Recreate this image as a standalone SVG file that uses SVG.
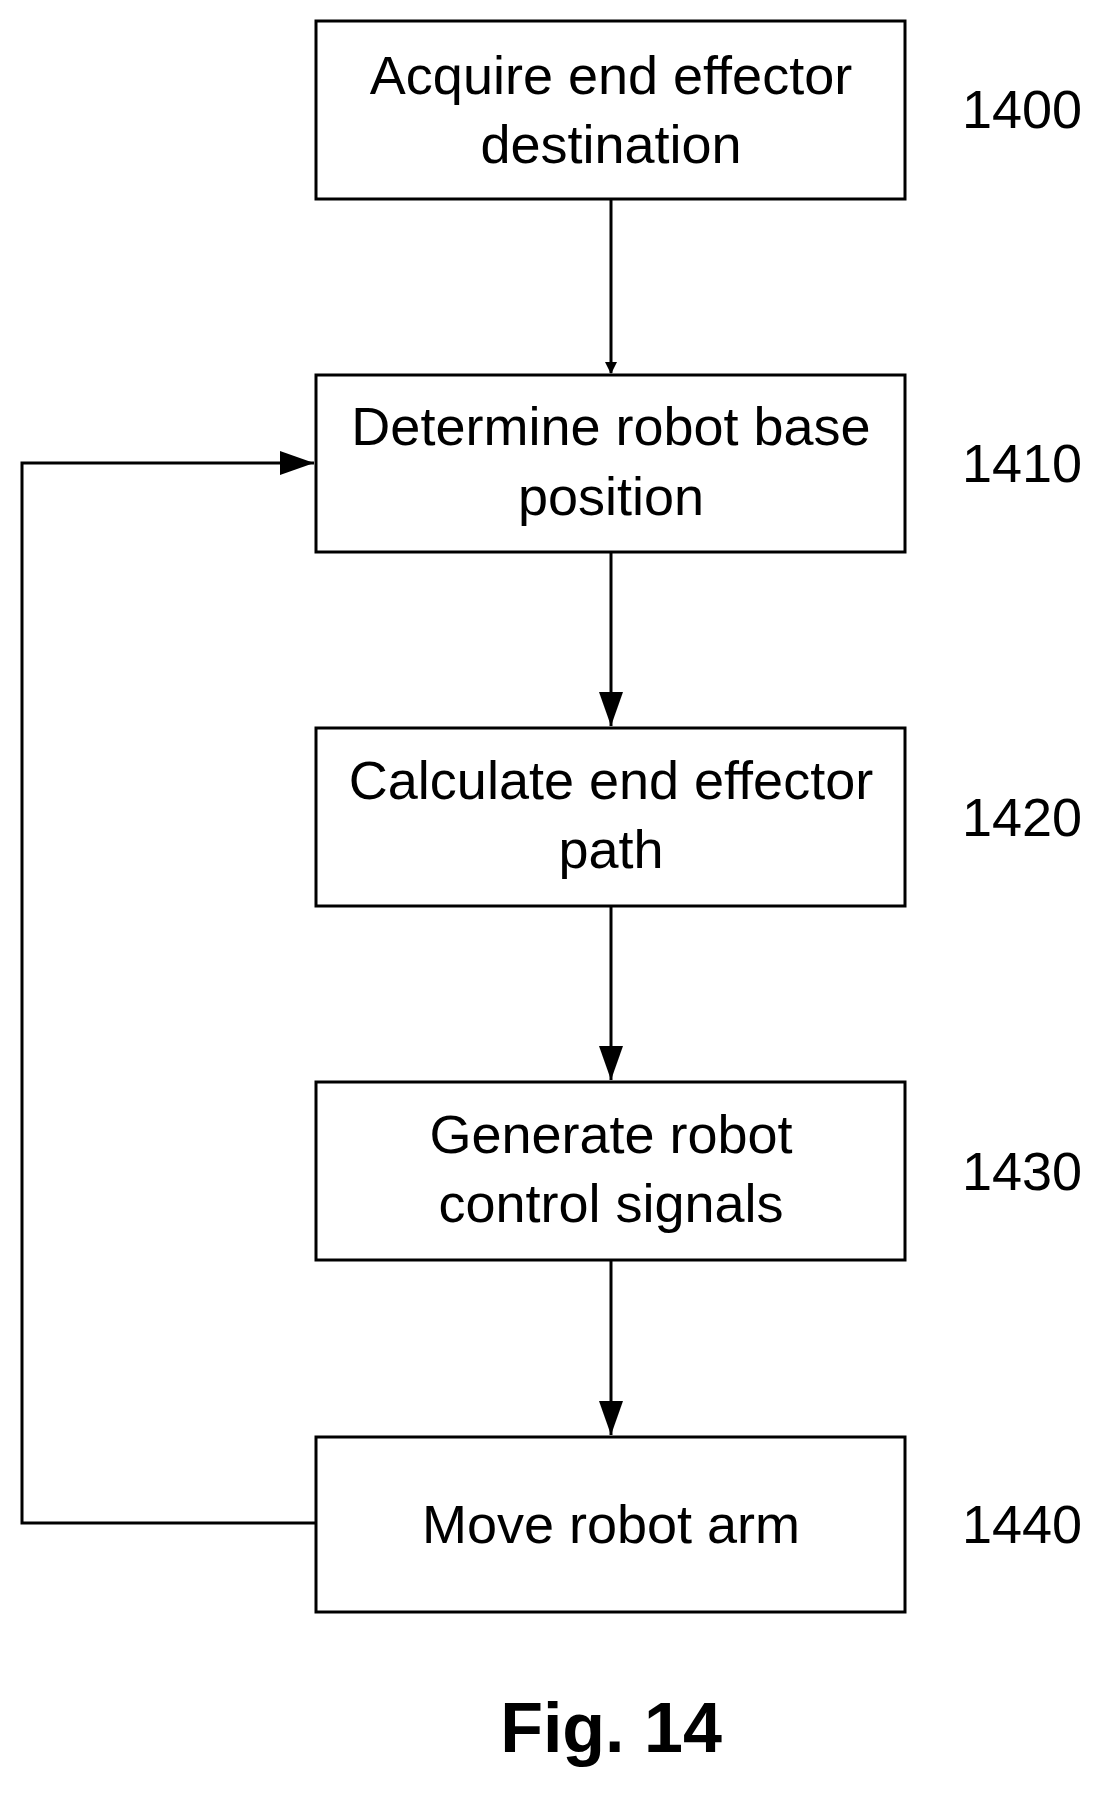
<svg xmlns="http://www.w3.org/2000/svg" width="1107" height="1794" viewBox="0 0 1107 1794">
<style>
.b{fill:#fff;stroke:#000;stroke-width:3}
.t{font-family:"Liberation Sans",Arial,sans-serif;font-size:54px;text-anchor:middle;fill:#000}
.n{font-family:"Liberation Sans",Arial,sans-serif;font-size:54px;fill:#000}
.c{fill:none;stroke:#000;stroke-width:3}
</style>
<defs><marker id="a" markerWidth="12" markerHeight="12" refX="11" refY="6" orient="auto" markerUnits="userSpaceOnUse" viewBox="0 0 12 12"><path d="M0,0L12,6L0,12z" fill="#000"/></marker></defs>
<rect width="1107" height="1794" fill="#fff"/>
<g id="connectors">
<line class="c" x1="611" y1="199" x2="611" y2="373" marker-end="url(#a)" style="marker-end:url(#a)"/>
<path class="c" d="M611,552V726" marker-end="url(#a)"/>
<path class="c" d="M611,906V1080" marker-end="url(#a)"/>
<path class="c" d="M611,1260V1435" marker-end="url(#a)"/>
<path class="c" d="M316,1523H22V463H314" marker-end="url(#a)"/>
</g>
<defs><marker id="m" markerWidth="34" markerHeight="24" refX="34" refY="12" orient="auto" markerUnits="userSpaceOnUse"><path d="M0,0L34,12L0,24z" fill="#000"/></marker></defs>
<g id="n1400"><rect class="b" x="316" y="21" width="589" height="178"/><text class="t" x="611" y="94">Acquire end effector</text><text class="t" x="611" y="163">destination</text><text class="n" x="962" y="128">1400</text></g>
<g id="n1410"><rect class="b" x="316" y="375" width="589" height="177"/><text class="t" x="611" y="445">Determine robot base</text><text class="t" x="611" y="515">position</text><text class="n" x="962" y="482">1410</text></g>
<g id="n1420"><rect class="b" x="316" y="728" width="589" height="178"/><text class="t" x="611" y="799">Calculate end effector</text><text class="t" x="611" y="868">path</text><text class="n" x="962" y="836">1420</text></g>
<g id="n1430"><rect class="b" x="316" y="1082" width="589" height="178"/><text class="t" x="611" y="1153">Generate robot</text><text class="t" x="611" y="1222">control signals</text><text class="n" x="962" y="1190">1430</text></g>
<g id="n1440"><rect class="b" x="316" y="1437" width="589" height="175"/><text class="t" x="611" y="1543">Move robot arm</text><text class="n" x="962" y="1543">1440</text></g>
<text x="611" y="1752" font-family="Liberation Sans,Arial,sans-serif" font-size="70" font-weight="bold" text-anchor="middle">Fig. 14</text>
<style>.c{marker-end:url(#m)} path.c[d^="M316"]{marker-end:url(#m)}</style>
</svg>
